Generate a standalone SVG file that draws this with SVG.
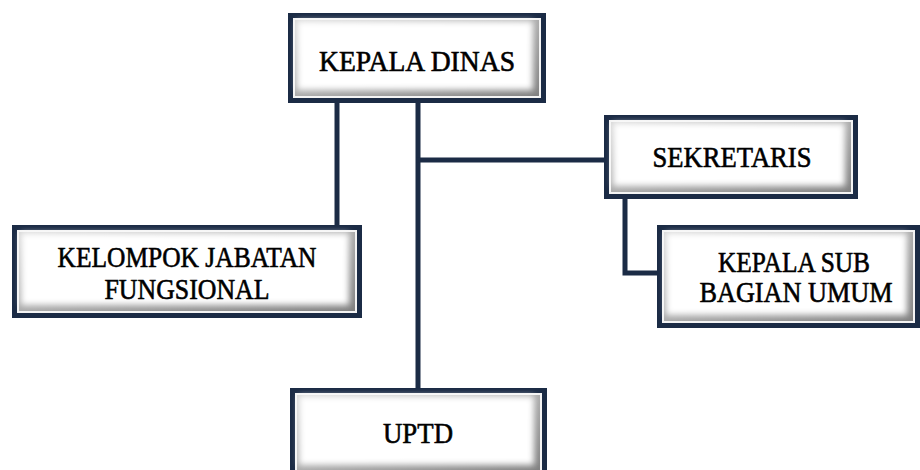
<svg xmlns="http://www.w3.org/2000/svg" width="920" height="470" viewBox="0 0 920 470">
<defs>
<filter id="soft" x="-10%" y="-10%" width="120%" height="120%"><feGaussianBlur stdDeviation="3"/></filter>
<linearGradient id="bev" x1="0" y1="0" x2="1" y2="1"><stop offset="0" stop-color="#d6d6d6"/><stop offset="1" stop-color="#808080"/></linearGradient>
<style>
.frame{fill:#1b2b45}
.gap{fill:#f4f4f4}
.bevel{fill:url(#bev)}
.face{fill:#ffffff;filter:url(#soft)}
.lbl{font-family:'Liberation Serif','Times New Roman',serif;font-size:29px;fill:#000;stroke:#000;stroke-width:0.6;text-anchor:middle}
.conn{stroke:#1b2b45;stroke-width:5;fill:none;stroke-linecap:butt}
</style>
</defs>
<rect width="920" height="470" fill="#ffffff"/>
<g id="connectors">
<line class="conn" x1="337" y1="100" x2="337" y2="228"/>
<line class="conn" x1="418" y1="100" x2="418" y2="390"/>
<line class="conn" x1="416" y1="160" x2="606" y2="160"/>
<path class="conn" d="M625,197 V273 H659"/>
</g>
<g id="kepala-dinas">
<rect class="frame" x="288" y="13" width="258" height="90"/>
<rect class="gap" x="293" y="18" width="248" height="80"/>
<rect class="bevel" x="295" y="20" width="244" height="76"/>
<rect class="face" x="297" y="21" width="236" height="69"/>
<text class="lbl" x="417" y="71" textLength="196" lengthAdjust="spacingAndGlyphs">KEPALA DINAS</text>
</g>
<g id="sekretaris">
<rect class="frame" x="604" y="115" width="254" height="84"/>
<rect class="gap" x="609" y="120" width="244" height="74"/>
<rect class="bevel" x="611" y="122" width="240" height="70"/>
<rect class="face" x="613" y="123" width="232" height="63"/>
<text class="lbl" x="732" y="167" textLength="159" lengthAdjust="spacingAndGlyphs">SEKRETARIS</text>
</g>
<g id="kepala-sub-bagian-umum">
<rect class="frame" x="657" y="225" width="263" height="103"/>
<rect class="gap" x="662" y="230" width="253" height="93"/>
<rect class="bevel" x="664" y="232" width="249" height="89"/>
<rect class="face" x="666" y="233" width="241" height="82"/>
<text class="lbl" x="794" y="272" textLength="152" lengthAdjust="spacingAndGlyphs">KEPALA SUB</text>
<text class="lbl" x="796" y="302" textLength="193" lengthAdjust="spacingAndGlyphs">BAGIAN UMUM</text>
</g>
<g id="kelompok-jabatan-fungsional">
<rect class="frame" x="12" y="225" width="350" height="93"/>
<rect class="gap" x="17" y="230" width="340" height="83"/>
<rect class="bevel" x="19" y="232" width="336" height="79"/>
<rect class="face" x="21" y="233" width="328" height="72"/>
<text class="lbl" x="187" y="267" textLength="259" lengthAdjust="spacingAndGlyphs">KELOMPOK JABATAN</text>
<text class="lbl" x="187" y="299" textLength="165" lengthAdjust="spacingAndGlyphs">FUNGSIONAL</text>
</g>
<g id="uptd">
<rect class="frame" x="290" y="388" width="257" height="90"/>
<rect class="gap" x="295" y="393" width="247" height="80"/>
<rect class="bevel" x="297" y="395" width="243" height="76"/>
<rect class="face" x="299" y="396" width="235" height="69"/>
<text class="lbl" x="418" y="443" textLength="70" lengthAdjust="spacingAndGlyphs">UPTD</text>
</g>
</svg>
